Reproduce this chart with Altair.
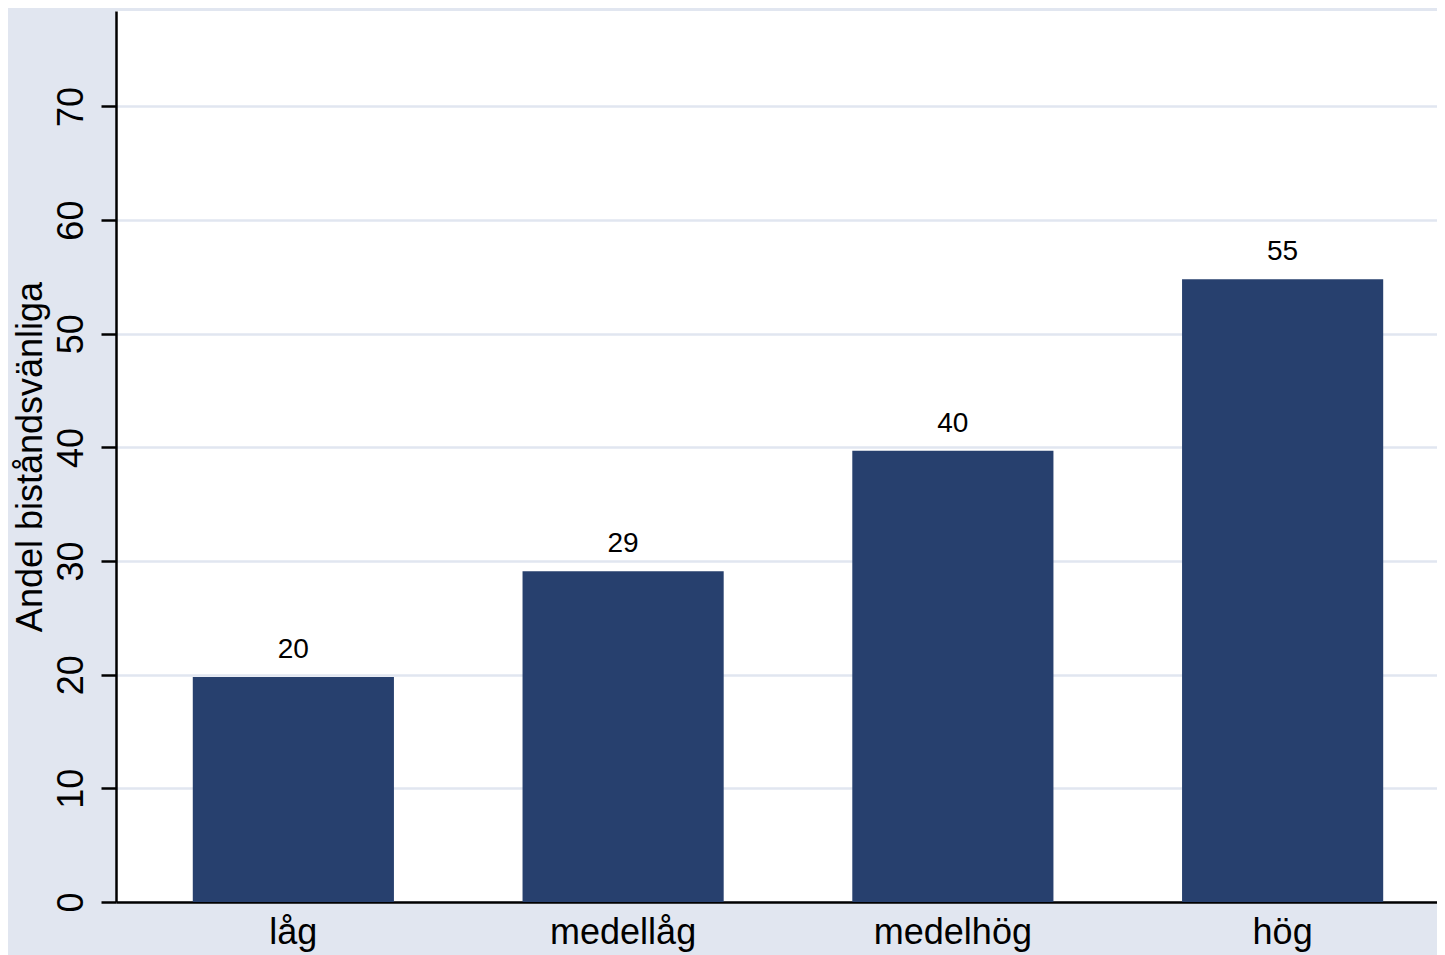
import altair as alt
import pandas as pd

categories = ["låg", "medellåg", "medelhög", "hög"]
values = [19.8, 29.1, 39.7, 54.8]
y_ticks = [0, 10, 20, 30, 40, 50, 60, 70]
y_title = "Andel biståndsvänliga"

df = pd.DataFrame({"kat": categories, "andel": values})

FONT = "Liberation Sans"
BAR = "#27406E"
BG = "#E1E6F0"

x_enc = alt.X(
    "kat:N",
    sort=categories,
    title=None,
    scale=alt.Scale(paddingInner=0.39, paddingOuter=0.198, align=0.588),
    axis=alt.Axis(
        labelAngle=0,
        labelFont=FONT,
        labelFontSize=36,
        labelColor="black",
        labelBaseline="alphabetic",
        labelPadding=41,
        ticks=False,
        tickSize=0,
        domainColor="black",
        domainWidth=2.5,
        grid=False,
    ),
)

y_enc = alt.Y(
    "andel:Q",
    title=y_title,
    scale=alt.Scale(domain=[0, 78.4], nice=False, zero=True),
    axis=alt.Axis(
        values=y_ticks,
        labelAngle=270,
        labelAlign="center",
        labelBaseline="alphabetic",
        labelFont=FONT,
        labelFontSize=36,
        labelColor="black",
        labelPadding=19,
        tickSize=15,
        tickColor="black",
        tickWidth=2.5,
        domainColor="black",
        domainWidth=2.5,
        grid=True,
        gridColor=BG,
        gridWidth=2.5,
        titleFont=FONT,
        titleFontSize=36,
        titleFontWeight="normal",
        titleColor="black",
        titleAngle=270,
        titleAlign="center",
        titleBaseline="alphabetic",
        titleX=-75,
        titleY=445.5,
    ),
)

bars = alt.Chart(df).mark_bar(color=BAR).encode(x=x_enc, y=y_enc)

labels = alt.Chart(df).mark_text(
    font=FONT, fontSize=28, color="black", baseline="alphabetic", dy=-19
).encode(
    x=alt.X("kat:N", sort=categories),
    y="andel:Q",
    text=alt.Text("andel:Q", format=".0f"),
)

chart = (
    alt.layer(bars, labels)
    .properties(
        width=1321,
        height=891,
        background=BG,
        padding={"left": 108, "top": 3, "right": 0, "bottom": 53},
        autosize=alt.AutoSizeParams(type="none"),
    )
    .configure_view(fill="white", stroke=None)
)

chart.save("out.html", embed_options={"renderer": "svg", "actions": False})
